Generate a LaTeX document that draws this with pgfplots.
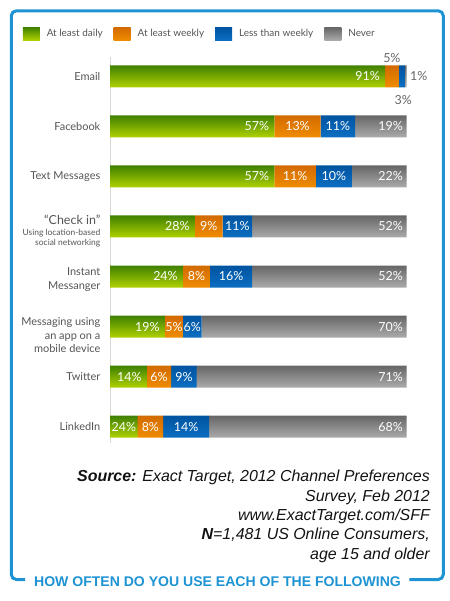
\documentclass[border=0pt]{standalone}
\usepackage{pgfplots}
\usepackage{pgfplotstable}
\pgfplotsset{compat=1.18}
\usepackage{fontspec}
\setmainfont{Lato}
\newfontfamily\arialfont{Liberation Sans}
\definecolor{frameblue}{HTML}{1E93D3}
\definecolor{gtop}{HTML}{3F8000}
\definecolor{gbot}{HTML}{B0D200}
\definecolor{otop}{HTML}{D26A00}
\definecolor{obot}{HTML}{F08C00}
\definecolor{btop}{HTML}{0054A0}
\definecolor{bbot}{HTML}{0C6EC2}
\definecolor{ntop}{HTML}{666666}
\definecolor{nbot}{HTML}{ABABAB}
\definecolor{labgray}{HTML}{555555}

% one vertical shading per series: a top-to-bottom gradient repeated on each of the 8 bar rows
\newcommand\rowshading[3]{%
\pgfdeclareverticalshading{#1}{100bp}{color(0bp)=(#3); color(25bp)=(#3);
 color(27.953bp)=(#2); color(31.721bp)=(#3); color(34.674bp)=(#2); color(38.442bp)=(#3);
 color(41.395bp)=(#2); color(45.163bp)=(#3); color(48.116bp)=(#2); color(51.884bp)=(#3);
 color(54.837bp)=(#2); color(58.605bp)=(#3); color(61.558bp)=(#2); color(65.326bp)=(#3);
 color(68.279bp)=(#2); color(72.047bp)=(#3); color(75bp)=(#2); color(100bp)=(#2)}}
\rowshading{greenrows}{gtop}{gbot}
\rowshading{orangerows}{otop}{obot}
\rowshading{bluerows}{btop}{bbot}
\rowshading{grayrows}{ntop}{nbot}

% y = category index, w = drawn width (percent of axis), lab = printed label
\pgfplotstableread{
y w lab
0 92.7 91\%
1 55.4 57\%
2 55.4 57\%
3 28.6 28\%
4 24.6 24\%
5 18.5 19\%
6 12.4 14\%
7 9.3 24\%
}\daily
\pgfplotstableread{
y w lab
0 4.7 {}
1 15.6 13\%
2 14.0 11\%
3 9.4 9\%
4 9.1 8\%
5 6.1 5\%
6 8.2 6\%
7 8.6 8\%
}\weekly
\pgfplotstableread{
y w lab
0 2.0 {}
1 11.6 11\%
2 12.1 10\%
3 9.9 11\%
4 14.2 16\%
5 6.3 6\%
6 8.6 9\%
7 15.5 14\%
}\lessweekly
\pgfplotstableread{
y w lab
0 0.6 {}
1 17.4 19\%
2 18.5 22\%
3 52.1 52\%
4 52.1 52\%
5 69.1 70\%
6 70.8 71\%
7 66.6 68\%
}\never

\newcommand\labshift{\ifcase\ticknum\space 0\or 0\or 0\or 4.5\or 3.5\or 8.5\else 0\fi}

\begin{document}
\begin{tikzpicture}
\path (0,0) rectangle (450bp,-601bp);
\begin{axis}[
  at={(110bp,-442.7bp)}, anchor=south west,
  scale only axis,
  width=296.7bp, height=385.4bp,
  clip=false,
  xbar stacked,
  bar width=22bp,
  xmin=0, xmax=100,
  ymin=-0.38, ymax=7.32,
  y dir=reverse,
  axis x line=none,
  axis y line=left,
  y axis line style={draw=black!15, line width=1bp, -},
  xtick=\empty,
  ytick={0,...,7},
  yticklabels={Email, Facebook, Text Messages,
    {{\fontsize{12.5}{14}\selectfont “Check in”}\\[-3bp]{\fontsize{8.5}{10}\selectfont Using location-based}\\[-4bp]{\fontsize{8.5}{10}\selectfont social networking}},
    {Instant\\Messanger},
    {Messaging using\\an app on a\\mobile device},
    Twitter, LinkedIn},
  major tick length=0pt,
  yticklabel style={align=right, text=labgray, font=\fontsize{11}{14}\selectfont,
    xshift=-9.5bp, inner sep=0pt, yshift=-\labshift bp},
  point meta=explicit symbolic,
  nodes near coords,
  every node near coord/.append style={text=white, font=\fontsize{12.5}{14}\selectfont, inner sep=0pt, anchor=center},
  legend columns=4,
  legend style={at={(-0.294,1.0778)}, anchor=north west, draw=none, fill=none,
    inner sep=0pt, outer sep=0pt,
    nodes={inner sep=0pt, text=labgray, font=\fontsize{10}{12}\selectfont},
    /tikz/every odd column/.append style={column sep=7bp},
    /tikz/every even column/.append style={column sep=11bp}},
]
\addplot[draw=none, shade, shading=greenrows,
  legend image code/.code={\path[top color=gtop, bottom color=gbot] (0bp,-6.5bp) rectangle (17bp,6.5bp);},
  visualization depends on={max(0,\thisrow{w}*1.4835-17.5) \as \sh},
  every node near coord/.append style={xshift=\sh bp}]
  table[x=w, y=y, meta=lab] {\daily};
\addplot[draw=none, shade, shading=orangerows,
  legend image code/.code={\path[top color=otop, bottom color=obot] (0bp,-6.5bp) rectangle (17bp,6.5bp);}]
  table[x=w, y=y, meta=lab] {\weekly};
\addplot[draw=none, shade, shading=bluerows,
  legend image code/.code={\path[top color=btop, bottom color=bbot] (0bp,-6.5bp) rectangle (17bp,6.5bp);}]
  table[x=w, y=y, meta=lab] {\lessweekly};
\addplot[draw=none, shade, shading=grayrows,
  legend image code/.code={\path[top color=ntop, bottom color=nbot] (0bp,-6.5bp) rectangle (17bp,6.5bp);},
  visualization depends on={max(0,\thisrow{w}*1.4835-16) \as \sh},
  every node near coord/.append style={xshift=\sh bp}]
  table[x=w, y=y, meta=lab] {\never};
\legend{At least daily, At least weekly, Less than weekly, Never}
\node[text=black!60, font=\fontsize{12.5}{14}\selectfont, inner sep=0pt] at (axis cs:95.0,0) [yshift=18bp] {5\%};
\node[text=black!60, font=\fontsize{12.5}{14}\selectfont, inner sep=0pt] at (axis cs:98.8,0) [yshift=-24bp] {3\%};
\node[text=black!60, font=\fontsize{12.5}{14}\selectfont, inner sep=0pt, anchor=west] at (axis cs:101.1,0) {1\%};
\end{axis}
\begin{scope}[x=1bp, y=-1bp]
\draw[frameblue, line width=3bp, rounded corners=5bp]
  (25,579.5) -- (11.3,579.5) -- (11.3,10.8) -- (443.3,10.8) -- (443.3,579.5) -- (409.3,579.5);
\node[text=frameblue, font=\arialfont\bfseries\fontsize{14.1}{16}\selectfont, inner sep=0pt, anchor=base]
  at (217.5,586.7) {HOW OFTEN DO YOU USE EACH OF THE FOLLOWING};
\begin{scope}[every node/.style={anchor=base east, inner sep=0pt, text=black!93, font=\arialfont\itshape\fontsize{16}{19}\selectfont}]
\node at (430,481.7) {\textbf{Source:} Exact Target, 2012 Channel Preferences};
\node at (430,501.1) {Survey, Feb 2012};
\node at (430,520.5) {www.ExactTarget.com/SFF};
\node at (430,539.9) {\textbf{N}=1,481 US Online Consumers,};
\node at (430,559.3) {age 15 and older};
\end{scope}
\end{scope}
\end{tikzpicture}
\end{document}
